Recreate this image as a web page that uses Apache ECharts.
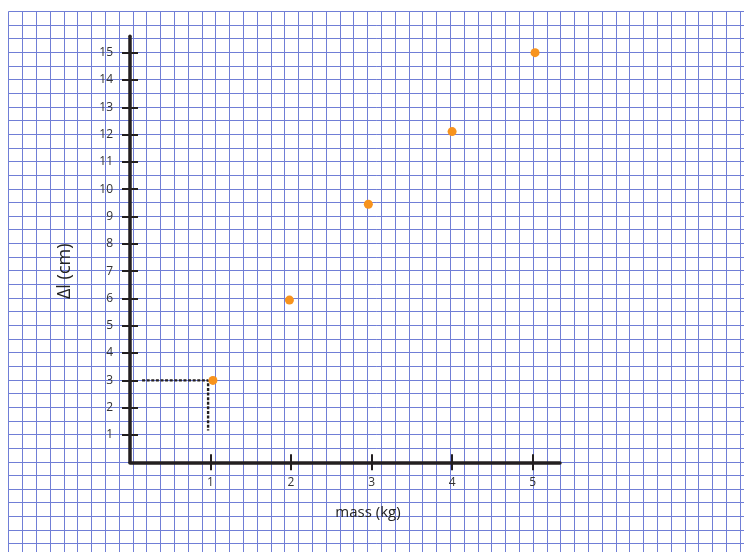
<!DOCTYPE html>
<html>
<head>
<meta charset="utf-8">
<script src="https://cdn.jsdelivr.net/npm/echarts@6/dist/echarts.min.js"></script>
<style>
html,body{margin:0;padding:0;background:#fff;}
#chart{width:744px;height:552px;}
</style>
</head>
<body>
<div id="chart"></div>
<script>
// ---- data ----
var massValues = [1.03, 1.98, 2.96, 4.0, 5.03];
var extensionValues = [3.0, 5.94, 9.45, 12.11, 15.0];
var xTicks = [1, 2, 3, 4, 5];
var yTicks = [1, 2, 3, 4, 5, 6, 7, 8, 9, 10, 11, 12, 13, 14, 15];
var guideX = [0.15, 0.97, 0.97];
var guideY = [3.0, 3.0, 1.16];
var xName = 'mass (kg)';
var yName = 'Δl (cm)';

var FONT = 'Open Sans';
var INK = '#231f20';
var PAPER = 'rgb(112,126,214)';

var chart = echarts.init(document.getElementById('chart'), null, {renderer: 'canvas'});

var plot = {left: 130, top: 36.3, width: 430, height: 426, outerBoundsMode: 'none', containLabel: false};

var option = {
  animation: false,
  backgroundColor: '#ffffff',
  grid: [
    {left: 8.7, top: 11.3, width: 54 * 13.8, height: 40 * 13.65, outerBoundsMode: 'none', containLabel: false},
    plot,
    Object.assign({}, plot)
  ],
  xAxis: [
    {
      gridIndex: 0, type: 'value', min: 0, max: 54, interval: 1,
      axisLine: {show: false}, axisTick: {show: false}, axisLabel: {show: false},
      splitLine: {show: true, lineStyle: {color: PAPER, width: 1, opacity: 1}},
      splitArea: {show: false}, minorSplitLine: {show: false}
    },
    {
      gridIndex: 1, type: 'value', min: 0, max: 5.34,
      name: xName, nameLocation: 'middle', nameGap: 43,
      nameTextStyle: {fontFamily: FONT, fontSize: 15, color: '#222', padding: [0, 0, 0, 46]},
      axisLine: {show: true, onZero: false, lineStyle: {color: INK, width: 3.5}},
      axisTick: {show: true, customValues: xTicks, length: 8, lineStyle: {color: INK, width: 2}},
      axisLabel: {show: true, customValues: xTicks, margin: 14, fontFamily: FONT, fontSize: 12, color: '#333'},
      splitLine: {show: false}
    },
    {
      gridIndex: 2, type: 'value', min: 0, max: 5.34,
      axisLine: {show: false},
      axisTick: {show: true, inside: true, customValues: xTicks, length: 8, lineStyle: {color: INK, width: 2}},
      axisLabel: {show: false},
      splitLine: {show: false}
    }
  ],
  yAxis: [
    {
      gridIndex: 0, type: 'value', inverse: true, min: 0, max: 40, interval: 1,
      axisLine: {show: false}, axisTick: {show: false}, axisLabel: {show: false},
      splitLine: {show: true, lineStyle: {color: PAPER, width: 1, opacity: 1}},
      splitArea: {show: false}, minorSplitLine: {show: false}
    },
    {
      gridIndex: 1, type: 'value', min: 0, max: 15.6,
      name: yName, nameLocation: 'middle', nameGap: 56, nameRotate: 90,
      nameTextStyle: {fontFamily: FONT, fontSize: 18, color: '#222', padding: [0, 44, 0, 0]},
      axisLine: {show: true, onZero: false, lineStyle: {color: INK, width: 3.5}},
      axisTick: {show: true, customValues: yTicks, length: 8, lineStyle: {color: INK, width: 2}},
      axisLabel: {show: true, customValues: yTicks, margin: 17, fontFamily: FONT, fontSize: 12, color: '#333'},
      splitLine: {show: false}
    },
    {
      gridIndex: 2, type: 'value', min: 0, max: 15.6,
      axisLine: {show: false},
      axisTick: {show: true, inside: true, customValues: yTicks, length: 8, lineStyle: {color: INK, width: 2}},
      axisLabel: {show: false},
      splitLine: {show: false}
    }
  ],
  series: [
    {
      type: 'line', xAxisIndex: 1, yAxisIndex: 1,
      data: guideX.map(function (x, i) { return [x, guideY[i]]; }),
      showSymbol: false, symbol: 'none', silent: true,
      lineStyle: {color: INK, width: 2.4, type: [3, 1.6]},
      z: 3
    },
    {
      type: 'scatter', xAxisIndex: 1, yAxisIndex: 1,
      data: massValues.map(function (x, i) { return [x, extensionValues[i]]; }),
      symbol: 'circle', symbolSize: 9,
      itemStyle: {color: '#f7931e', opacity: 1},
      z: 5
    }
  ]
};
chart.setOption(option);
</script>
</body>
</html>
